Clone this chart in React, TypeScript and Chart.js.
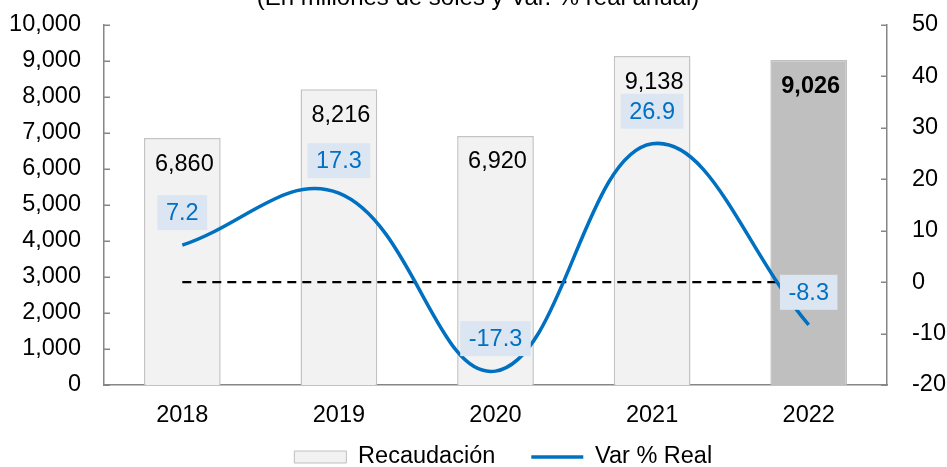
import React, { useEffect, useRef } from "react";
import { Chart, registerables } from "chart.js";

Chart.register(...registerables);

const titleText = "(En millones de soles y Var. % real anual)";
const categories = ["2018", "2019", "2020", "2021", "2022"];
const recaudacion = [6860, 8216, 6920, 9138, 9026];
const varReal = [7.2, 17.3, -17.3, 26.9, -8.3];
const zeroLine = [0, 0, 0, 0, 0];
const barColors = ["#f2f2f2", "#f2f2f2", "#f2f2f2", "#f2f2f2", "#bfbfbf"];
const barBorders = ["#c3c3c3", "#c3c3c3", "#c3c3c3", "#c3c3c3", "#bfbfbf"];
const boldBar = [false, false, false, false, true];

const FONT = "'Liberation Sans', Arial, sans-serif";
const FS = 23.5;
const BLUE = "#0070c0";

const labelsPlugin = {
  id: "customLabels",
  afterDatasetsDraw(chart: any) {
    const ctx = chart.ctx;
    ctx.save();
    const barMeta = chart.getDatasetMeta(0);
    barMeta.data.forEach((el: any, i: number) => {
      ctx.font = `${boldBar[i] ? "bold " : ""}${FS}px ${FONT}`;
      ctx.fillStyle = "#000";
      ctx.textAlign = "center";
      ctx.textBaseline = "middle";
      ctx.fillText(recaudacion[i].toLocaleString("en-US"), el.x + 2, el.y + 26);
    });
    const lineMeta = chart.getDatasetMeta(2);
    lineMeta.data.forEach((el: any, i: number) => {
      const txt = varReal[i].toFixed(1);
      ctx.font = `${FS}px ${FONT}`;
      const w = ctx.measureText(txt).width + 17;
      const h = 35;
      const cy = el.y - 32.5;
      ctx.fillStyle = "#dce6f2";
      ctx.fillRect(el.x - w / 2, cy - h / 2, w, h);
      ctx.fillStyle = BLUE;
      ctx.textAlign = "center";
      ctx.textBaseline = "middle";
      ctx.fillText(txt, el.x, cy + 1);
    });
    ctx.restore();
  },
  afterDraw(chart: any) {
    const ctx = chart.ctx;
    ctx.save();
    ctx.font = `24px ${FONT}`;
    ctx.fillStyle = "#000";
    ctx.textAlign = "center";
    ctx.textBaseline = "alphabetic";
    ctx.fillText(titleText, 478, 5);
    ctx.strokeStyle = "#868686";
    ctx.lineWidth = 1.5;
    const yl = chart.scales.y;
    const yr = chart.scales.y1;
    yl.ticks.forEach((t: any) => {
      const p = Math.round(yl.getPixelForValue(t.value)) + 0.25;
      ctx.beginPath();
      ctx.moveTo(yl.right, p);
      ctx.lineTo(yl.right + 6, p);
      ctx.stroke();
    });
    yr.ticks.forEach((t: any) => {
      const p = Math.round(yr.getPixelForValue(t.value)) + 0.25;
      ctx.beginPath();
      ctx.moveTo(yr.left - 6, p);
      ctx.lineTo(yr.left, p);
      ctx.stroke();
    });
    ctx.restore();
  },
};

const noClip = (s: any, dims: { w?: number; h?: number }) => {
  if (dims.w !== undefined) s.width = dims.w;
  if (dims.h !== undefined) s.height = dims.h;
  s.paddingTop = 0;
  s.paddingBottom = 0;
  s.paddingLeft = 0;
  s.paddingRight = 0;
  s._computeLabelArea = () => undefined;
};

export default function App() {
  const ref = useRef<HTMLCanvasElement>(null);
  useEffect(() => {
    if (!ref.current) return;
    const chart = new Chart(ref.current, {
      type: "bar",
      data: {
        labels: categories,
        datasets: [
          {
            type: "bar",
            label: "Recaudación",
            data: recaudacion,
            backgroundColor: barColors,
            borderColor: barBorders,
            borderWidth: 1.5,
            yAxisID: "y",
            order: 3,
            barPercentage: 0.49,
            categoryPercentage: 1,
          },
          {
            type: "line",
            label: "cero",
            data: zeroLine,
            borderColor: "#000",
            borderWidth: 2.2,
            borderDash: [9, 6],
            pointRadius: 0,
            yAxisID: "y1",
            order: 2,
          },
          {
            type: "line",
            label: "Var % Real",
            data: varReal,
            borderColor: BLUE,
            borderWidth: 3.5,
            tension: 0.4,
            pointRadius: 0,
            yAxisID: "y1",
            order: 1,
          },
        ],
      } as any,
      options: {
        responsive: false,
        animation: false,
        devicePixelRatio: 1,
        layout: { padding: { left: 59.5, top: 25, right: 0, bottom: 0 } },
        plugins: {
          tooltip: { enabled: false },
          title: { display: false },
          legend: {
            position: "bottom",
            maxHeight: 57.75,
            labels: {
              usePointStyle: true,
              pointStyleWidth: 52,
              boxHeight: 12,
              padding: 36,
              color: "#000",
              font: { family: FONT, size: FS },
              sort: (a: any, b: any) => a.datasetIndex - b.datasetIndex,
              generateLabels: (c: any) => [
                {
                  text: c.data.datasets[0].label,
                  fillStyle: "#f2f2f2",
                  strokeStyle: "#bfbfbf",
                  lineWidth: 1,
                  pointStyle: "rect",
                  datasetIndex: 0,
                  hidden: false,
                },
                {
                  text: c.data.datasets[2].label,
                  fillStyle: BLUE,
                  strokeStyle: BLUE,
                  lineWidth: 3.5,
                  pointStyle: "line",
                  datasetIndex: 2,
                  hidden: false,
                },
              ],
            },
          },
        },
        scales: {
          x: {
            grid: { display: false, drawTicks: false },
            border: { display: true, color: "#868686", width: 1.5 },
            ticks: { color: "#000", font: { family: FONT, size: FS }, padding: 16 },
            afterFit: (s: any) => noClip(s, { h: 24.25 }),
          },
          y: {
            position: "left",
            min: 0,
            max: 10000,
            grid: { display: false, drawTicks: false },
            border: { display: true, color: "#868686", width: 1.5 },
            ticks: {
              stepSize: 1000,
              color: "#000",
              font: { family: FONT, size: FS },
              padding: 23,
              callback: (v: any) => Number(v).toLocaleString("en-US"),
            },
            afterFit: (s: any) => noClip(s, { w: 44.5 }),
          },
          y1: {
            position: "right",
            min: -20,
            max: 50,
            grid: { display: false, drawTicks: false },
            border: { display: true, color: "#868686", width: 1.5 },
            ticks: {
              stepSize: 10,
              color: "#000",
              font: { family: FONT, size: FS },
              padding: 25,
            },
            afterFit: (s: any) => noClip(s, { w: 60 }),
          },
        },
      } as any,
      plugins: [labelsPlugin],
    });
    return () => chart.destroy();
  }, []);
  return (
    <div style={{ position: "absolute", left: 0, top: 0, width: 947, height: 467, background: "#fff" }}>
      <canvas ref={ref} width={947} height={467} style={{ width: 947, height: 467, display: "block" }} />
    </div>
  );
}
